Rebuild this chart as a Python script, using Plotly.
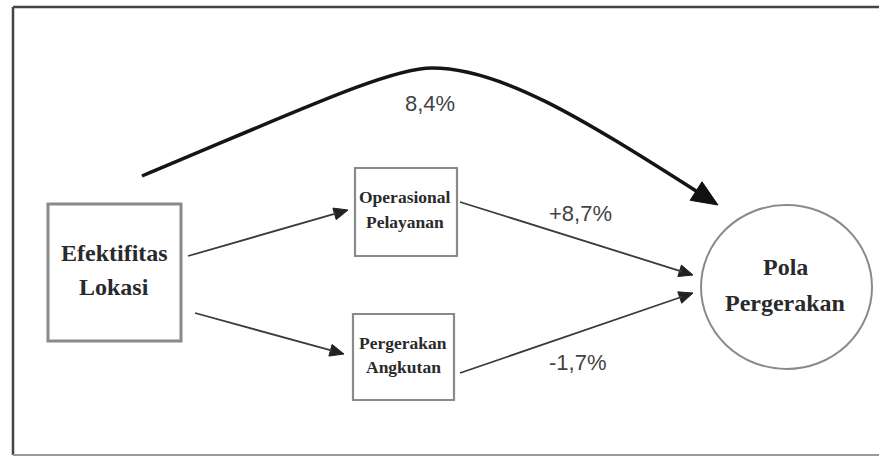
import math
import plotly.graph_objects as go

# ---- content (text) ----
node_names = ["Efektifitas Lokasi", "Operasional Pelayanan", "Pergerakan Angkutan", "Pola Pergerakan"]
node_lines = [["Efektifitas", "Lokasi"], ["Operasional", "Pelayanan"], ["Pergerakan", "Angkutan"], ["Pola", "Pergerakan"]]
effect_labels = ["8,4%", "+8,7%", "-1,7%"]   # direct, via Operasional, via Pergerakan

W, H = 879, 457

# ---- layout geometry (page pixel coordinates) ----
boxes = {
    "Efektifitas Lokasi": (48, 204, 181, 341),
    "Operasional Pelayanan": (355, 168, 457, 256),
    "Pergerakan Angkutan": (353, 314, 454, 400),
}
circle = (701, 205, 872, 369)
text_pos = {
    "Efektifitas Lokasi": (114, [253, 287], 24),
    "Operasional Pelayanan": (405, [197, 222], 17.5),
    "Pergerakan Angkutan": (403, [343, 367], 17.5),
    "Pola Pergerakan": (785, [267, 303], 24),
}
straight_arrows = [((188, 256), (348, 210)), ((195, 313), (344, 354)),
                   ((460, 202), (693, 275)), ((460, 373), (693, 293))]
label_pos = [(430, 103), (580, 213), (577, 362)]

shapes = []
annotations = []

# outer frame
shapes.append(dict(type="line", x0=13, y0=7, x1=W + 20, y1=7, line=dict(color="#444", width=2.5)))
shapes.append(dict(type="line", x0=13, y0=7, x1=13, y1=455, line=dict(color="#444", width=2.5)))
shapes.append(dict(type="line", x0=13, y0=455, x1=W + 20, y1=455, line=dict(color="#9a9a9a", width=2)))

# boxes
for name, (x0, y0, x1, y1) in boxes.items():
    w = 3 if name == "Efektifitas Lokasi" else 2.2
    shapes.append(dict(type="rect", x0=x0, y0=y0, x1=x1, y1=y1,
                       line=dict(color="#8a8a8a", width=w), fillcolor="rgba(0,0,0,0)"))
# circle
shapes.append(dict(type="circle", x0=circle[0], y0=circle[1], x1=circle[2], y1=circle[3],
                   line=dict(color="#8a8a8a", width=2)))


def head(tip, frm, length, half, color):
    dx, dy = tip[0] - frm[0], tip[1] - frm[1]
    d = math.hypot(dx, dy)
    ux, uy = dx / d, dy / d
    bx, by = tip[0] - ux * length, tip[1] - uy * length
    px, py = -uy * half, ux * half
    path = f"M{tip[0]},{tip[1]} L{bx + px},{by + py} L{bx - px},{by - py} Z"
    shapes.append(dict(type="path", path=path, fillcolor=color, line=dict(color=color, width=1)))
    return bx, by


for (s, t) in straight_arrows:
    bx, by = head(t, s, 14, 6, "#222")
    shapes.append(dict(type="line", x0=s[0], y0=s[1], x1=bx + (t[0] - s[0]) * 0.01, y1=by + (t[1] - s[1]) * 0.01,
                       line=dict(color="#3a3a3a", width=1.8)))

# curved direct-effect arrow
tip = (718, 205)
ctrl = (580, 117)
bx, by = head(tip, ctrl, 26, 11, "#111")
curve = f"M142,176 C300,110 390,68 432,68 C500,68 580,117 {bx + 2},{by + 1.3}"
shapes.append(dict(type="path", path=curve, line=dict(color="#151515", width=3.5)))

# node texts
for name, lines in zip(node_names, node_lines):
    cx, ys, fs = text_pos[name]
    for ln, y in zip(lines, ys):
        annotations.append(dict(x=cx, y=y, text=f"<b>{ln}</b>", showarrow=False,
                                font=dict(family="Liberation Serif, Times New Roman, serif", size=fs, color="#2a2a2a"),
                                xanchor="center", yanchor="middle"))

# effect labels
for lab, (x, y) in zip(effect_labels, label_pos):
    annotations.append(dict(x=x, y=y, text=lab, showarrow=False,
                            font=dict(family="Liberation Sans, Arial, sans-serif", size=22, color="#444"),
                            xanchor="center", yanchor="middle"))

fig = go.Figure()
fig.update_layout(
    width=W, height=H, margin=dict(l=0, r=0, t=0, b=0),
    paper_bgcolor="white", plot_bgcolor="white",
    xaxis=dict(range=[0, W], visible=False, fixedrange=True),
    yaxis=dict(range=[H, 0], visible=False, fixedrange=True),
    shapes=shapes, annotations=annotations, showlegend=False,
)
fig.write_html("out.html", config={"displayModeBar": False},
               post_script="document.body.style.margin='0px';")
